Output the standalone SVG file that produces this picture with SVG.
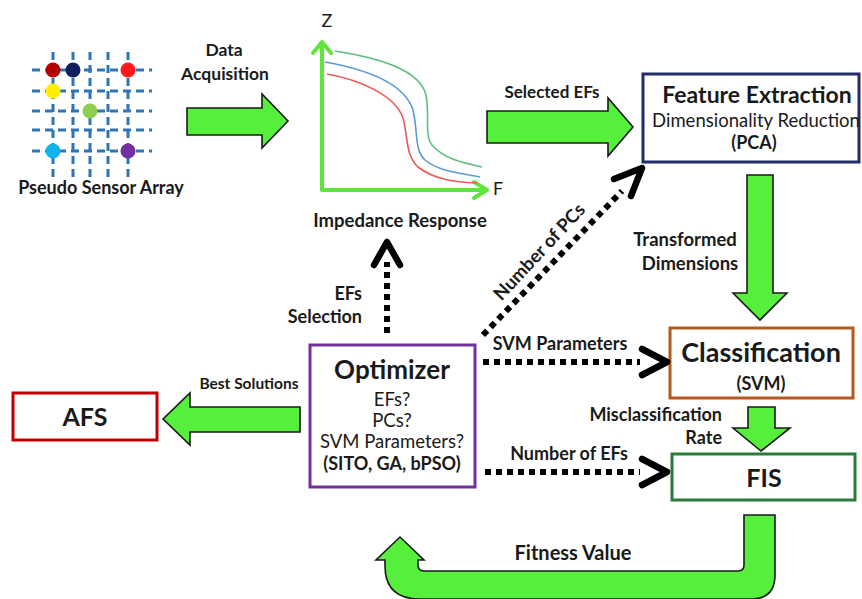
<svg xmlns="http://www.w3.org/2000/svg" width="862" height="599" viewBox="0 0 862 599">
<defs>
<style>
.t{font-family:Lato,"Open Sans","Liberation Sans",sans-serif;fill:#1a1a1a}
.b{font-weight:bold}
.c{text-anchor:middle}
.r{text-anchor:end}
.big{fill:#55ef3c;stroke:#1a1a1a;stroke-width:1.6;stroke-linejoin:miter}
.grid{stroke:#2e75b6;stroke-width:3;stroke-dasharray:8 5;fill:none}
.dot{stroke:#000;stroke-width:6;stroke-dasharray:6 5;fill:none}
.chev{stroke:#000;stroke-width:6.5;fill:none;stroke-linecap:round;stroke-linejoin:round}
.ax{stroke:#5ee63a;stroke-width:4;fill:none;stroke-linecap:round;stroke-linejoin:round}
.box{fill:#fff;stroke-width:3}
</style>
</defs>
<rect width="862" height="599" fill="#fff"/>

<g id="sensor-array">
<g class="grid">
<line x1="53" y1="52" x2="53" y2="177"/>
<line x1="73" y1="52" x2="73" y2="177"/>
<line x1="90" y1="52" x2="90" y2="177"/>
<line x1="108" y1="52" x2="108" y2="177"/>
<line x1="128" y1="52" x2="128" y2="177"/>
<line x1="32" y1="70" x2="152" y2="70"/>
<line x1="32" y1="91" x2="152" y2="91"/>
<line x1="32" y1="111" x2="152" y2="111"/>
<line x1="32" y1="130" x2="152" y2="130"/>
<line x1="32" y1="151" x2="152" y2="151"/>
</g>
<circle cx="53" cy="70" r="7.5" fill="#b30000"/>
<circle cx="73" cy="70" r="7.5" fill="#0f1f5c"/>
<circle cx="128" cy="70" r="7.5" fill="#ff1a1a"/>
<circle cx="53" cy="91" r="7.5" fill="#ffee00"/>
<circle cx="90" cy="111" r="7.5" fill="#8fcf4f"/>
<circle cx="53" cy="151" r="7.5" fill="#12b4ef"/>
<circle cx="128" cy="151" r="7.5" fill="#7030a0"/>
<text class="t b c" x="101" y="194" font-size="18">Pseudo Sensor Array</text>
</g>

<g id="impedance-response">
<path class="ax" d="M322,190 V42 M313,53 L322,42 L331,53 M322,190 H487 M474,182 L487,190 L474,198"/>
<path d="M335,51 C380,58 420,70 426,95 C430,115 424,135 432,145 C445,160 465,163 482,167" fill="none" stroke="#5fbf84" stroke-width="1.6"/>
<path d="M325,62 C370,70 405,85 413,110 C418,130 414,150 425,160 C440,172 460,173 480,177" fill="none" stroke="#5b9bd5" stroke-width="1.6"/>
<path d="M327,74 C360,80 395,95 403,118 C408,135 405,155 418,167 C435,180 455,182 477,183" fill="none" stroke="#ec5a55" stroke-width="1.6"/>
<text class="t c" x="327" y="27" font-size="18">Z</text>
<text class="t c" x="498" y="195" font-size="18">F</text>
<text class="t b c" x="400" y="227" font-size="18.5">Impedance Response</text>
</g>

<g id="feature-extraction">
<rect class="box" x="643" y="74" width="216" height="88" stroke="#1f2d6b"/>
<text class="t b c" x="757" y="103" font-size="23">Feature Extraction</text>
<text class="t c" x="756" y="127" font-size="18.5">Dimensionality Reduction</text>
<text class="t b c" x="754" y="149" font-size="18">(PCA)</text>
</g>

<g id="classification">
<rect class="box" x="670" y="328" width="183" height="70" stroke="#b35a1c"/>
<text class="t b c" x="761" y="362" font-size="27">Classification</text>
<text class="t b c" x="761" y="390" font-size="18">(SVM)</text>
</g>

<g id="fis">
<rect class="box" x="672" y="454" width="183" height="46" stroke="#2a7a3a"/>
<text class="t b c" x="764" y="487" font-size="25">FIS</text>
</g>

<g id="optimizer">
<rect class="box" x="310" y="345" width="165" height="142" stroke="#7030a0"/>
<text class="t b c" x="392" y="379" font-size="26">Optimizer</text>
<text class="t c" x="392" y="406" font-size="18.5">EFs?</text>
<text class="t c" x="392" y="427" font-size="18.5">PCs?</text>
<text class="t c" x="392" y="448" font-size="18.5">SVM Parameters?</text>
<text class="t b c" x="392" y="470" font-size="18">(SITO, GA, bPSO)</text>
</g>

<g id="afs">
<rect class="box" x="13" y="393" width="144" height="47" stroke="#c00000"/>
<text class="t b c" x="85" y="426" font-size="25">AFS</text>
</g>

<g id="connectors">
<polygon class="big" points="187,108 262,108 262,94 288,121 262,148 262,135 187,135"/>
<polygon class="big" points="487,111 608,111 608,98 633,127 608,156 608,143 487,143"/>
<polygon class="big" points="300,407 190,407 190,393 163,419 190,445 190,432 300,432"/>
<polygon class="big" points="747,175 773,175 773,293 787,293 760,320 733,293 747,293"/>
<polygon class="big" points="748,407 775,407 775,428 790,428 761,451 733,428 748,428"/>
<path class="big" d="M744,515 H775 V575 Q775,599 751,599 H420 Q385,599 385,566 V560 H376 L400,537 L424,560 H418 V565 Q418,571 424,571 H738 Q744,571 744,565 Z"/>

<line class="dot" x1="387" y1="333" x2="387" y2="262"/>
<polyline class="chev" points="374,265 387,242 400,265"/>

<line class="dot" x1="483" y1="362" x2="640" y2="362"/>
<polyline class="chev" points="642,349 667,362 642,375"/>

<line class="dot" x1="485" y1="472" x2="640" y2="472"/>
<polyline class="chev" points="642,459 667,472 642,485"/>

<line class="dot" x1="483" y1="335" x2="622" y2="191"/>
<polyline class="chev" points="614,179 642,168 631,196"/>
</g>

<g id="labels">
<text class="t b c" x="224" y="56" font-size="17.5">Data</text>
<text class="t b c" x="225" y="80" font-size="17.5">Acquisition</text>
<text class="t b c" x="552" y="98" font-size="17">Selected EFs</text>
<text class="t b r" x="362" y="300" font-size="18">EFs</text>
<text class="t b r" x="362" y="323" font-size="18">Selection</text>
<text class="t b c" x="249" y="389" font-size="15.5">Best Solutions</text>
<text class="t b c" x="685" y="246" font-size="18.5">Transformed</text>
<text class="t b c" x="690" y="270" font-size="18.5">Dimensions</text>
<text class="t b c" x="560" y="350" font-size="18">SVM Parameters</text>
<text class="t b r" x="722" y="421" font-size="18">Misclassification</text>
<text class="t b r" x="722" y="444" font-size="18">Rate</text>
<text class="t b c" x="569" y="460" font-size="18">Number of EFs</text>
<text class="t b c" x="573" y="560" font-size="20">Fitness Value</text>
<text class="t b c" transform="translate(544,256) rotate(-47)" font-size="18.5">Number of PCs</text>
</g>
</svg>
